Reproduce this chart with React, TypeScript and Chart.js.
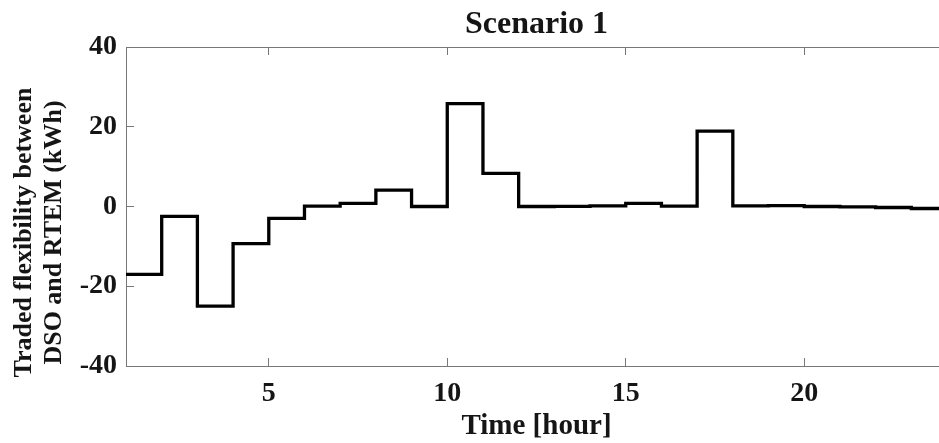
import React, { useEffect, useRef } from "react";
import { Chart, registerables } from "chart.js";

Chart.register(...registerables);

const hours = [1, 2, 3, 4, 5, 6, 7, 8, 9, 10, 11, 12, 13, 14, 15, 16, 17, 18, 19, 20, 21, 22, 23, 24];
const traded = [-17, -2.5, -25, -9.3, -3, 0.1, 0.8, 4.1, 0, 25.8, 8.3, 0, 0.05, 0.15, 0.8, 0.1, 18.9, 0.15, 0.2, 0, -0.1, -0.25, -0.5, -0.5];
const xTicks = [5, 10, 15, 20];
const yTicks = [-40, -20, 0, 20, 40];
const titleText = "Scenario 1";
const xTitle = "Time [hour]";
const yTitle = ["Traded flexibility between        ", "DSO and RTEM (kWh)        "];

const FONT = "'Liberation Serif', 'Times New Roman', serif";
const TEXT = "#151515";
const AXIS = "#777777";

export default function App() {
  const ref = useRef<HTMLCanvasElement | null>(null);

  useEffect(() => {
    if (!ref.current) return;
    const setX = (s: any) => {
      s.ticks = xTicks.map((v) => ({ value: v }));
    };
    const grid = {
      drawOnChartArea: false,
      drawTicks: true,
      tickLength: -8,
      color: AXIS,
      lineWidth: 1,
    };
    const border = { display: true, color: AXIS, width: 1 };
    const chart = new Chart(ref.current, {
      type: "line",
      data: {
        datasets: [
          {
            data: hours.map((h, i) => ({ x: h, y: traded[i] })),
            borderColor: "#000000",
            borderWidth: 3.3,
            stepped: "before",
            pointRadius: 0,
            fill: false,
            xAxisID: "x",
            yAxisID: "y",
          },
        ],
      },
      options: {
        responsive: false,
        animation: false,
        devicePixelRatio: 1,
        layout: { padding: 0 },
        plugins: {
          legend: { display: false },
          tooltip: { enabled: false },
          title: {
            display: true,
            text: titleText,
            fullSize: false,
            color: TEXT,
            font: { family: FONT, size: 32, weight: "bold", lineHeight: 1.2 },
            padding: { top: 6, bottom: 2.6 },
          },
        },
        scales: {
          x: {
            type: "linear",
            position: "bottom",
            min: 1,
            max: 24,
            afterBuildTicks: setX,
            afterFit: (s: any) => {
              s.height = 77;
            },
            ticks: {
              color: TEXT,
              font: { family: FONT, size: 28, weight: "bold" },
              padding: 19,
              maxRotation: 0,
              autoSkip: false,
            },
            grid,
            border,
            title: {
              display: true,
              text: xTitle,
              color: TEXT,
              font: { family: FONT, size: 29, weight: "bold", lineHeight: 1 },
              padding: { top: 0, bottom: 2 },
            },
          },
          x2: {
            type: "linear",
            axis: "x",
            position: "top",
            min: 1,
            max: 24,
            afterBuildTicks: setX,
            afterFit: (s: any) => {
              s.height = 0;
            },
            ticks: { display: false },
            grid,
            border,
          },
          y: {
            type: "linear",
            position: "left",
            min: -40,
            max: 40,
            afterBuildTicks: (s: any) => {
              s.ticks = yTicks.map((v) => ({ value: v }));
            },
            afterFit: (s: any) => {
              s.width = 126;
            },
            ticks: {
              color: TEXT,
              font: { family: FONT, size: 28, weight: "bold" },
              padding: 17,
            },
            grid,
            border,
            title: {
              display: true,
              text: yTitle,
              color: TEXT,
              font: { family: FONT, size: 26, weight: "bold", lineHeight: 1.135 },
              padding: { top: 10, bottom: 0 },
            },
          },
        },
      },
    } as any);
    return () => chart.destroy();
  }, []);

  return (
    <div
      style={{
        position: "fixed",
        left: 0,
        top: 0,
        width: 939,
        height: 443,
        overflow: "hidden",
        background: "#ffffff",
      }}
    >
      <canvas ref={ref} width={947} height={443} style={{ display: "block", width: 947, height: 443 }} />
    </div>
  );
}
